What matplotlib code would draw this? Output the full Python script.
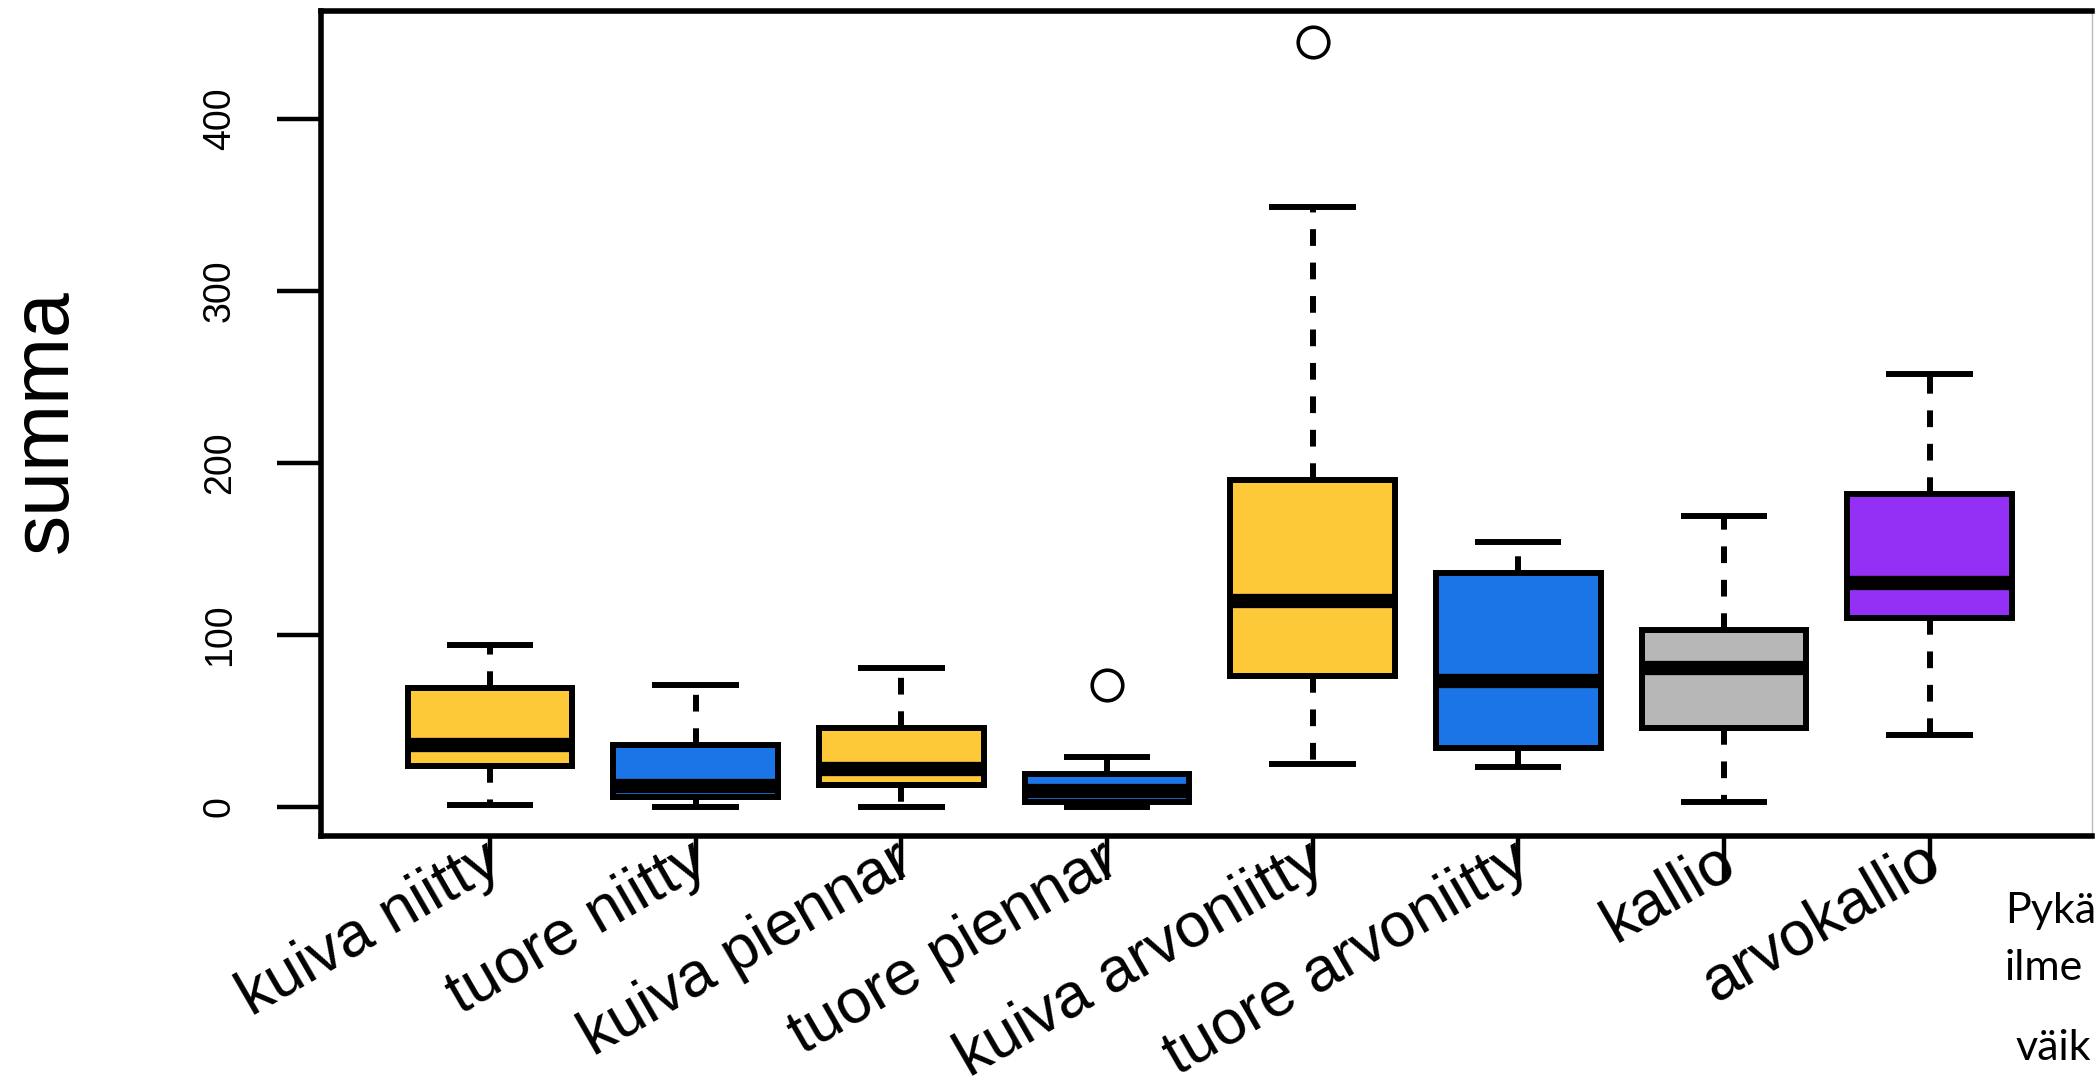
import numpy as np
import matplotlib.pyplot as plt

# data (summa per habitat type)
categories = ["kuiva niitty", "tuore niitty", "kuiva piennar", "tuore piennar",
              "kuiva arvoniitty", "tuore arvoniitty", "kallio", "arvokallio"]
whisker_low = [1, 0, 0, 0, 25, 23, 3, 42]
q1 = [24, 6, 13, 3, 76, 34, 46, 110]
median = [36, 12, 22, 9, 120, 73, 81, 130]
q3 = [69, 36, 46, 19, 190, 136, 103, 182]
whisker_high = [94, 71, 81, 29, 349, 154, 169, 252]
outliers = [[], [], [], [71], [445], [], [], []]
box_colors = ["#FDC939", "#1B75E6", "#FDC939", "#1B75E6",
              "#FDC939", "#1B75E6", "#B7B7B7", "#9430F5"]
y_ticks = [0, 100, 200, 300, 400]

W, H = 2096, 1091
fig = plt.figure(figsize=(W / 100, H / 100), dpi=100)
ax = fig.add_axes([321 / W, 1 - 836 / H, (2092 - 321) / W, (836 - 11) / H])

stats = []
for i, name in enumerate(categories):
    stats.append(dict(label=name, whislo=whisker_low[i], q1=q1[i], med=median[i],
                      q3=q3[i], whishi=whisker_high[i], fliers=outliers[i]))

lw = 4.3
bp = ax.bxp(stats, positions=np.arange(1, len(categories) + 1), widths=0.8,
            capwidths=0.42, patch_artist=True, showfliers=True,
            boxprops=dict(linewidth=lw, edgecolor="black"),
            medianprops=dict(color="black", linewidth=10.3, solid_capstyle="butt"),
            whiskerprops=dict(color="black", linewidth=lw,
                              linestyle=(0, (2.8, 2.8)), dash_capstyle="butt"),
            capprops=dict(color="black", linewidth=lw, solid_capstyle="butt"),
            flierprops=dict(marker="o", markerfacecolor="none",
                            markeredgecolor="black", markersize=22,
                            markeredgewidth=2.6))
for patch, c in zip(bp["boxes"], box_colors):
    patch.set_facecolor(c)

ax.set_xlim(0.178, 8.79)
ax.set_ylim(-16.9, 462.8)

for side in ["left", "top", "bottom"]:
    ax.spines[side].set_linewidth(4)
    ax.spines[side].set_color("black")
ax.spines["right"].set_linewidth(1)
ax.spines["right"].set_color("#BBBBBB")

ax.set_yticks(y_ticks)
ax.set_yticklabels([str(v) for v in y_ticks], rotation=90, va="center",
                   family="Liberation Sans", fontsize=27)
ax.tick_params(axis="y", length=32, width=3.2, pad=28, direction="out")

ax.set_xticks(np.arange(1, len(categories) + 1))
ax.set_xticklabels([])
ax.tick_params(axis="x", length=32, width=3.2, direction="out")

for i, name in enumerate(categories):
    ax.text(i + 1.03, -0.025, name, transform=ax.get_xaxis_transform(),
            rotation=30, rotation_mode="anchor", ha="right", va="center",
            family="Liberation Sans", fontsize=45, clip_on=False)

fig.text(67 / W, 1 - 421 / H, "summa", rotation=90, rotation_mode="anchor",
         ha="center", va="baseline", family="Liberation Sans", fontsize=58)

fig.text(2005 / W, 1 - 923 / H, "Pykä", ha="left", va="baseline",
         family="Lato", fontsize=31)
fig.text(2005 / W, 1 - 980 / H, "ilme", ha="left", va="baseline",
         family="Lato", fontsize=31)
fig.text(2015 / W, 1 - 1060 / H, "väik", ha="left", va="baseline",
         family="Lato", fontsize=31)

fig.savefig("out.png", dpi=100)
